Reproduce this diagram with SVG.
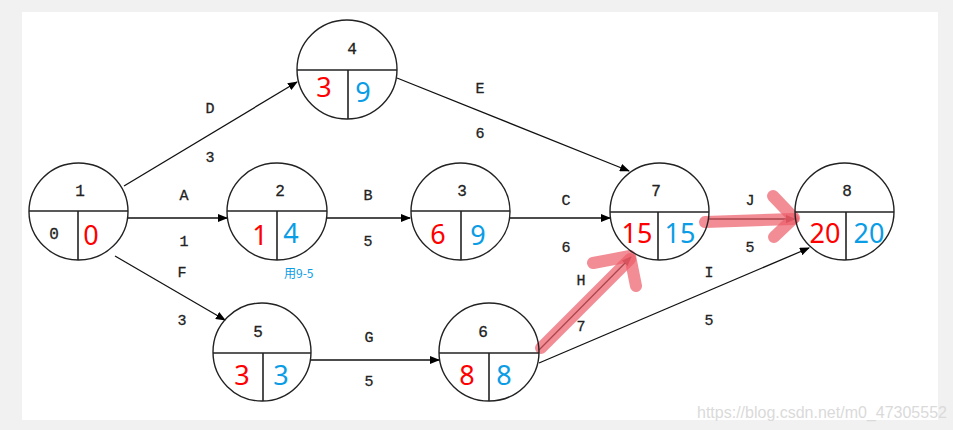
<svg xmlns="http://www.w3.org/2000/svg" width="953" height="430" viewBox="0 0 953 430">
<defs>
<marker id="ah" markerWidth="10" markerHeight="8" refX="9" refY="4" orient="auto" markerUnits="userSpaceOnUse">
<path d="M0,0 L10,4 L0,8 Z" fill="#000"/>
</marker>
<style>
.bg{fill:#f1f1f1}
.paper{fill:#fff}
.node ellipse{fill:none;stroke:#222;stroke-width:1.4}
.node line{stroke:#222;stroke-width:1.6}
.num{font-family:"Liberation Mono","DejaVu Sans Mono",monospace;font-size:16px;fill:#222;stroke:#222;stroke-width:0.3;text-anchor:middle}
.lbl{font-family:"Liberation Mono","DejaVu Sans Mono",monospace;font-size:15px;fill:#222;stroke:#222;stroke-width:0.3;text-anchor:middle}
.es{font-family:"Noto Sans","Open Sans",sans-serif;font-size:27px;fill:#ff0000;text-anchor:middle}
.ls{font-family:"Noto Sans","Open Sans",sans-serif;font-size:27px;fill:#0a9de6;text-anchor:middle}
.edge{stroke:#111;stroke-width:1.3;fill:none;marker-end:url(#ah)}
.hl{stroke:#ec5b68;stroke-opacity:0.7;stroke-width:12;stroke-linecap:round;stroke-linejoin:round;fill:none}
.note{font-family:"Noto Sans CJK SC","Noto Sans",sans-serif;font-size:12px;fill:#0a9de6}
.wm{font-family:"Liberation Sans",Arial,sans-serif;font-size:16px;fill:#dadada}
</style>
</defs>
<rect class="bg" x="0" y="0" width="953" height="430"/>
<rect class="paper" x="22" y="12" width="916" height="408"/>

<g id="connectors">
<line class="edge" x1="124" y1="186" x2="297" y2="82"/>
<line class="edge" x1="128" y1="218" x2="227" y2="218"/>
<line class="edge" x1="115" y1="256" x2="225" y2="320"/>
<line class="edge" x1="327" y1="218" x2="410" y2="218"/>
<line class="edge" x1="510" y1="218" x2="610" y2="218"/>
<line class="edge" x1="397" y1="78" x2="629" y2="171"/>
<line class="edge" x1="311" y1="360" x2="439" y2="360"/>
<line class="edge" x1="539" y1="350" x2="631" y2="257"/>
<line class="edge" x1="539" y1="363" x2="809" y2="248"/>
<line class="edge" x1="709" y1="219" x2="795" y2="219"/>
</g>

<g id="highlights">
<path class="hl" d="M541,348 L630,259"/>
<path class="hl" d="M593,263 L630,256 L636,286"/>
<path class="hl" d="M705,222 L793,219"/>
<path class="hl" d="M773,196 L794,218 L774,237"/>
</g>

<g id="edge-labels">
<text class="lbl" x="210" y="113">D</text><text class="lbl" x="210" y="162">3</text>
<text class="lbl" x="480" y="93">E</text><text class="lbl" x="480" y="138">6</text>
<text class="lbl" x="184" y="200">A</text><text class="lbl" x="184" y="246">1</text>
<text class="lbl" x="368" y="200">B</text><text class="lbl" x="368" y="246">5</text>
<text class="lbl" x="566" y="205">C</text><text class="lbl" x="566" y="252">6</text>
<text class="lbl" x="750" y="205">J</text><text class="lbl" x="750" y="252">5</text>
<text class="lbl" x="182" y="277">F</text><text class="lbl" x="182" y="325">3</text>
<text class="lbl" x="369" y="342">G</text><text class="lbl" x="369" y="386">5</text>
<text class="lbl" x="581" y="285">H</text><text class="lbl" x="581" y="331">7</text>
<text class="lbl" x="709" y="277">I</text><text class="lbl" x="709" y="325">5</text>
</g>

<g id="node1" class="node">
<ellipse cx="78.5" cy="211.5" rx="49.5" ry="48.5"/>
<line x1="29" y1="211" x2="128" y2="211"/><line x1="78" y1="211" x2="78" y2="260"/>
<text class="num" x="80" y="196">1</text>
<text class="num" x="54" y="239">0</text>
<text class="es" x="91" y="245">0</text>
</g>
<g id="node2" class="node">
<ellipse cx="277" cy="211.5" rx="50" ry="48.5"/>
<line x1="227" y1="211" x2="327" y2="211"/><line x1="277" y1="211" x2="277" y2="260"/>
<text class="num" x="280" y="196">2</text>
<text class="es" x="260" y="245">1</text>
<text class="ls" x="291" y="243">4</text>
</g>
<g id="node3" class="node">
<ellipse cx="460.5" cy="211.5" rx="49.5" ry="48.5"/>
<line x1="411" y1="211" x2="510" y2="211"/><line x1="461" y1="211" x2="461" y2="260"/>
<text class="num" x="462" y="196">3</text>
<text class="es" x="438" y="244">6</text>
<text class="ls" x="478" y="245">9</text>
</g>
<g id="node4" class="node">
<ellipse cx="347" cy="69.5" rx="50" ry="49.5"/>
<line x1="297" y1="70" x2="397" y2="70"/><line x1="348" y1="70" x2="348" y2="119"/>
<text class="num" x="352" y="54">4</text>
<text class="es" x="324" y="97">3</text>
<text class="ls" x="363" y="102">9</text>
</g>
<g id="node5" class="node">
<ellipse cx="262" cy="352" rx="49" ry="49"/>
<line x1="213" y1="353" x2="311" y2="353"/><line x1="263" y1="353" x2="263" y2="401"/>
<text class="num" x="258" y="337">5</text>
<text class="es" x="242" y="385">3</text>
<text class="ls" x="281" y="385">3</text>
</g>
<g id="node6" class="node">
<ellipse cx="489" cy="352" rx="50" ry="49"/>
<line x1="439" y1="353" x2="539" y2="353"/><line x1="489" y1="353" x2="489" y2="401"/>
<text class="num" x="483" y="337">6</text>
<text class="es" x="467" y="385">8</text>
<text class="ls" x="504" y="385">8</text>
</g>
<g id="node7" class="node">
<ellipse cx="659.5" cy="211.5" rx="49.5" ry="48.5"/>
<line x1="610" y1="212" x2="709" y2="212"/><line x1="658" y1="212" x2="658" y2="260"/>
<text class="num" x="656" y="196">7</text>
<text class="es" x="637" y="243">15</text>
<text class="ls" x="680" y="243">15</text>
</g>
<g id="node8" class="node">
<ellipse cx="844.5" cy="211.5" rx="49.5" ry="48.5"/>
<line x1="795" y1="212" x2="894" y2="212"/><line x1="846" y1="212" x2="846" y2="260"/>
<text class="num" x="847" y="196">8</text>
<text class="es" x="825" y="243">20</text>
<text class="ls" x="869" y="243">20</text>
</g>

<text class="note" x="284" y="278">用9-5</text>
<text class="wm" x="697" y="418">https://blog.csdn.net/m0_47305552</text>
</svg>
